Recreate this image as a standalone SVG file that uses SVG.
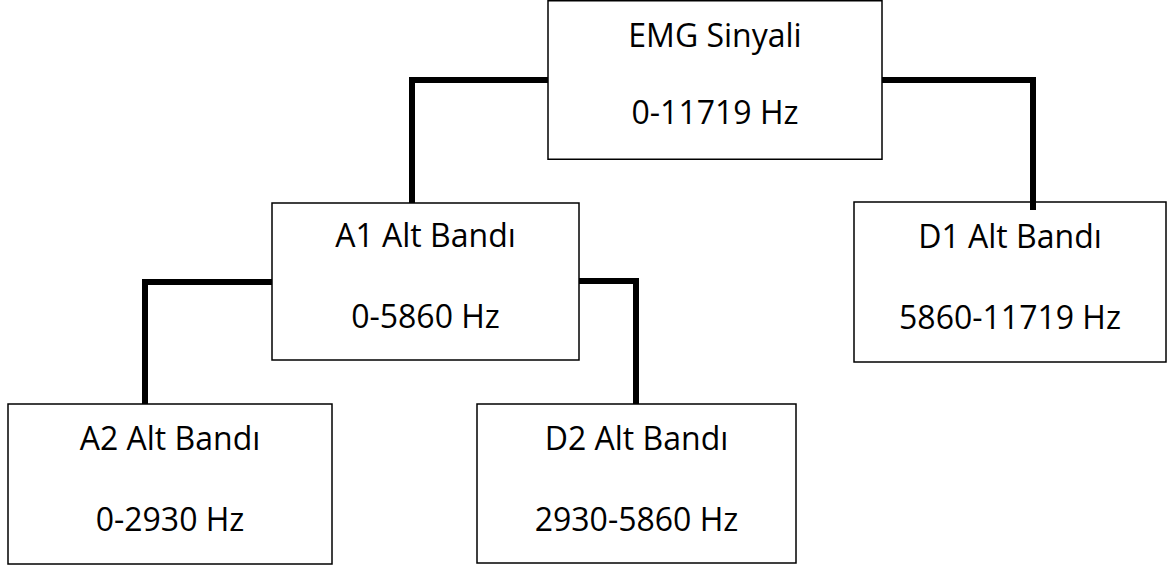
<svg xmlns="http://www.w3.org/2000/svg" width="1171" height="570" viewBox="0 0 1171 570">
  <style>
    .box { fill: #ffffff; stroke: #000000; stroke-width: 1.5; }
    .lbl { font-family: "Open Sans", "Liberation Sans", sans-serif; font-size: 32px; fill: #000000; text-anchor: middle; }
    .conn { fill: none; stroke: #000000; stroke-width: 6; stroke-linejoin: miter; stroke-linecap: butt; }
  </style>
  <rect x="0" y="0" width="1171" height="570" fill="#ffffff"/>
  <g id="node-emg">
    <rect class="box" x="548" y="0.75" width="334" height="158.5"/>
    <text class="lbl" x="715" y="47">EMG Sinyali</text>
    <text class="lbl" x="715" y="124">0-11719 Hz</text>
  </g>
  <g id="node-a1">
    <rect class="box" x="272" y="203" width="307" height="157"/>
    <text class="lbl" x="425.5" y="247">A1 Alt Bandı</text>
    <text class="lbl" x="425.5" y="328">0-5860 Hz</text>
  </g>
  <g id="node-d1">
    <rect class="box" x="854" y="202" width="312" height="160"/>
    <text class="lbl" x="1010" y="248">D1 Alt Bandı</text>
    <text class="lbl" x="1010" y="329">5860-11719 Hz</text>
  </g>
  <g id="node-a2">
    <rect class="box" x="8" y="404" width="324" height="160"/>
    <text class="lbl" x="170" y="450">A2 Alt Bandı</text>
    <text class="lbl" x="170" y="531">0-2930 Hz</text>
  </g>
  <g id="node-d2">
    <rect class="box" x="477" y="404" width="319" height="159"/>
    <text class="lbl" x="636.5" y="450">D2 Alt Bandı</text>
    <text class="lbl" x="636.5" y="531">2930-5860 Hz</text>
  </g>
  <g id="connectors">
    <polyline class="conn" points="548,80 412,80 412,203"/>
    <polyline class="conn" points="882,80 1033,80 1033,210"/>
    <polyline class="conn" points="272,282 145,282 145,404"/>
    <polyline class="conn" points="579,281 636,281 636,404"/>
  </g>
</svg>
